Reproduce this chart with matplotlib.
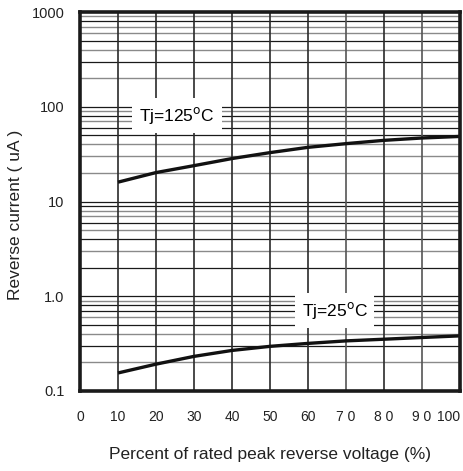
import matplotlib
matplotlib.use("Agg")
import matplotlib.pyplot as plt
import numpy as np

plt.rcParams['font.family'] = ['Liberation Sans', 'DejaVu Sans']

# kurvene lest av bildet
prosent = [10, 20, 30, 40, 50, 60, 70, 80, 90, 100]
strom_125 = [16.0, 20.2, 23.9, 28.4, 32.8, 37.3, 40.8, 44.2, 46.8, 48.6]
strom_25 = [0.155, 0.192, 0.232, 0.268, 0.296, 0.318, 0.338, 0.352, 0.367, 0.382]

x_ticks = [0, 10, 20, 30, 40, 50, 60, 70, 80, 90, 100]
x_tick_labels = ["0", "10", "20", "30", "40", "50", "60", "7 0", "8 0", "9 0", "100"]
y_ticks = [0.1, 1, 10, 100, 1000]
y_tick_labels = ["0.1", "1.0", "10", "100", "1000"]

# grå eller svart rutenettlinje for hver mellomverdi i en dekade
gra_linjer = {0.1: [2, 4, 6, 9], 1: [3, 5, 7, 8], 10: [2, 3, 4, 7, 9], 100: [2, 4, 6, 7, 9]}

fig = plt.figure(figsize=(4.64, 4.71), dpi=100)
ax = fig.add_axes([80 / 464, 1 - 391 / 471, 380 / 464, 379 / 471])
ax.set_yscale("log")
ax.set_xlim(0, 100)
ax.set_ylim(0.1, 1000)

# horisontalt rutenett
for dekade, grå in gra_linjer.items():
    for m in range(1, 10):
        verdi = dekade * m
        if verdi <= 0.1:
            continue
        if m in grå:
            ax.axhline(verdi, color="#8a8a8a", lw=1.0, zorder=1)
        else:
            ax.axhline(verdi, color="#1a1a1a", lw=0.9, zorder=1)

# vertikalt rutenett
for x in range(10, 100, 10):
    farge = "#555555" if x in (70, 90) else "#2a2a2a"
    ax.axvline(x, color=farge, lw=1.2, zorder=1)

ax.plot(prosent, strom_125, color="#111111", lw=2.4, zorder=3, solid_capstyle="butt")
ax.plot(prosent, strom_25, color="#111111", lw=2.4, zorder=3, solid_capstyle="butt")

ax.text(25.5, 81, "Tj=125$^{\\rm o}$C", fontsize=12.5, ha="center", va="center", zorder=4,
        bbox=dict(facecolor="white", edgecolor="none", pad=5))
ax.text(67, 0.71, "Tj=25$^{\\rm o}$C", fontsize=12.5, ha="center", va="center", zorder=4,
        bbox=dict(facecolor="white", edgecolor="none", pad=5))

for s in ax.spines.values():
    s.set_linewidth(2.6)
    s.set_color("#1a1a1a")
    s.set_zorder(5)

ax.set_xticks(x_ticks)
ax.set_xticklabels(x_tick_labels, fontsize=10)
ax.get_xticklabels()[-1].set_horizontalalignment("right")
ax.set_yticks(y_ticks)
ax.set_yticklabels(y_tick_labels, fontsize=10.5)
ax.minorticks_off()
ax.tick_params(length=0, colors="#222222")
ax.tick_params(axis="x", pad=14)
ax.tick_params(axis="y", pad=11)

fig.text(16 / 464, 1 - 215 / 471, "Reverse current ( uA )", rotation=90, ha="center", va="center",
         fontsize=12.5, color="#222222")
fig.text(270 / 464, 1 - 455 / 471, "Percent of rated peak reverse voltage (%)", ha="center", va="center",
         fontsize=12.5, color="#222222")

fig.savefig("out.png", dpi=100, facecolor="white")
